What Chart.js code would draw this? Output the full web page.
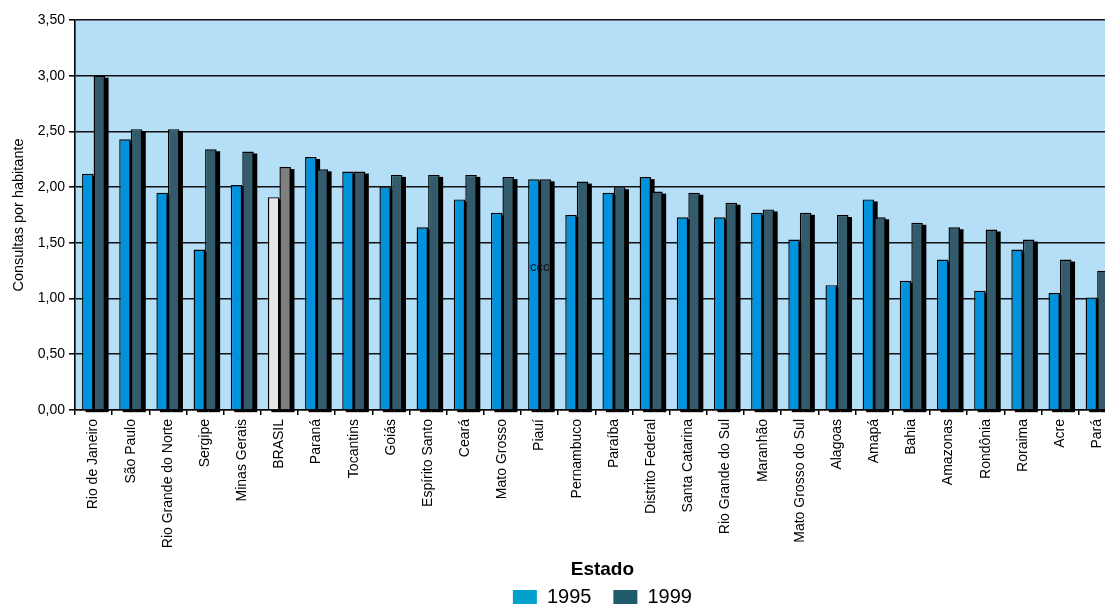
<!DOCTYPE html>
<html>
<head>
<meta charset="utf-8">
<style>
  html, body { margin: 0; padding: 0; overflow: hidden; background: #fff; }
  #wrap { position: relative; width: 1118px; height: 620px; }
</style>
</head>
<body>
<div id="wrap"><canvas id="myChart"></canvas></div>
<script src="https://cdn.jsdelivr.net/npm/chart.js@4.4.1/dist/chart.umd.min.js"></script>
<script>
const categories = [
    "Rio de Janeiro", "São Paulo", "Rio Grande do Norte", "Sergipe", "Minas Gerais",
    "BRASIL", "Paraná", "Tocantins", "Goiás", "Espírito Santo", "Ceará", "Mato Grosso",
    "Piauí", "Pernambuco", "Paraíba", "Distrito Federal", "Santa Catarina",
    "Rio Grande do Sul", "Maranhão", "Mato Grosso do Sul", "Alagoas", "Amapá", "Bahia",
    "Amazonas", "Rondônia", "Roraima", "Acre", "Pará"
];
const values1995 = [
    2.12, 2.43, 1.95, 1.44, 2.02, 1.91, 2.27, 2.14, 2.00, 1.64, 1.89, 1.77, 2.07, 1.75,
    1.95, 2.09, 1.73, 1.73, 1.77, 1.53, 1.12, 1.89, 1.16, 1.35, 1.07, 1.44, 1.05, 1.01
];
const values1999 = [
    3.00, 2.52, 2.52, 2.34, 2.32, 2.18, 2.16, 2.14, 2.11, 2.11, 2.11, 2.09, 2.07, 2.05,
    2.00, 1.96, 1.95, 1.86, 1.80, 1.77, 1.75, 1.73, 1.68, 1.64, 1.62, 1.53, 1.35, 1.25
];
const seriesNames = ["1995", "1999"];
const yMin = 0, yMax = 3.5, yStep = 0.5;
const highlighted = "BRASIL";
// stray label in the original, sits over the Piauí bars
const noteText = "ccc", noteCategory = "Piauí", noteValue = 1.28;

const barColors = ["#0092DC", "#335B6B"];
const highlightColors = ["#E6E6E6", "#7F7F7F"];
const legendColors = ["#00A2CC", "#1E5B6B"];

Chart.defaults.font.family = '"Liberation Sans", Arial, sans-serif';
Chart.defaults.color = "#000";

const plotBackground = {
    id: "plotBackground",
    beforeDraw(chart) {
        const { ctx, chartArea: a } = chart;
        ctx.save();
        ctx.fillStyle = "#B5DEF7";
        ctx.fillRect(a.left, a.top, a.right - a.left, a.bottom - a.top);
        ctx.restore();
    }
};

// black drop shadow behind every bar
const barShadow = {
    id: "barShadow",
    beforeDatasetsDraw(chart) {
        const ctx = chart.ctx;
        ctx.save();
        ctx.fillStyle = "#000";
        chart.data.datasets.forEach((ds, i) => {
            chart.getDatasetMeta(i).data.forEach(bar => {
                const p = bar.getProps(["x", "y", "base", "width"], true);
                ctx.fillRect(p.x - p.width / 2 + 3.5, p.y + 2, p.width, p.base - p.y + 1);
            });
        });
        ctx.restore();
    }
};

const noteLabel = {
    id: "noteLabel",
    afterDatasetsDraw(chart) {
        const ctx = chart.ctx;
        const x = chart.scales.x.getPixelForValue(categories.indexOf(noteCategory));
        const y = chart.scales.y.getPixelForValue(noteValue);
        ctx.save();
        ctx.font = '13px "Liberation Sans", Arial, sans-serif';
        ctx.fillStyle = "#111";
        ctx.textAlign = "center";
        ctx.textBaseline = "middle";
        ctx.fillText(noteText, x, y);
        ctx.restore();
    }
};

// the original legend sits a little right of the plot centre
const legendNudge = {
    id: "legendNudge",
    afterLayout(chart) {
        chart.legend.left += 7;
        chart.legend.right += 7;
    }
};

const colorsFor = i => categories.map(c => c === highlighted ? highlightColors[i] : barColors[i]);

new Chart("myChart", {
    type: "bar",
    data: {
        labels: categories,
        datasets: [
            { label: seriesNames[0], data: values1995, backgroundColor: colorsFor(0) },
            { label: seriesNames[1], data: values1999, backgroundColor: colorsFor(1) }
        ]
    },
    options: {
        responsive: true,
        maintainAspectRatio: false,
        animation: false,
        events: [],
        layout: { padding: { top: 20, right: 1, bottom: 3, left: 0 } },
        datasets: {
            bar: {
                borderColor: "#000",
                borderWidth: 1.4,
                categoryPercentage: 0.62,
                barPercentage: 1.0
            }
        },
        scales: {
            x: {
                offset: true,
                grid: { offset: true, drawOnChartArea: false, color: "#000", lineWidth: 1.5, tickLength: 5 },
                border: { color: "#000", width: 1.6 },
                ticks: { autoSkip: false, minRotation: 90, maxRotation: 90, padding: 4, font: { size: 14 }, color: "#000" },
                afterFit(scale) { scale.height = 150.5; }
            },
            y: {
                min: yMin,
                max: yMax,
                grid: { color: "#111", lineWidth: 1.6, tickLength: 6 },
                border: { color: "#000", width: 1.6 },
                ticks: {
                    stepSize: yStep,
                    padding: 4,
                    font: { size: 14 },
                    color: "#000",
                    callback: v => v.toFixed(2).replace(".", ",")
                },
                title: {
                    display: true,
                    text: "Consultas por habitante",
                    font: { size: 14.5 },
                    color: "#000",
                    padding: { top: 10, bottom: 0 }
                },
                afterFit(scale) { scale.width = 75; }
            }
        },
        plugins: {
            tooltip: { enabled: false },
            legend: {
                position: "bottom",
                fullSize: false,
                title: {
                    display: true,
                    text: "Estado",
                    color: "#000",
                    font: { size: 19, weight: "bold" },
                    padding: { top: 0, bottom: -18.3 }
                },
                labels: {
                    boxWidth: 24,
                    boxHeight: 14,
                    padding: 22,
                    color: "#000",
                    font: { size: 20 },
                    generateLabels: chart => chart.data.datasets.map((ds, i) => ({
                        text: ds.label,
                        fillStyle: legendColors[i],
                        strokeStyle: legendColors[i],
                        lineWidth: 0,
                        hidden: false,
                        datasetIndex: i
                    }))
                }
            }
        }
    },
    plugins: [plotBackground, barShadow, noteLabel, legendNudge]
});
</script>
</body>
</html>
